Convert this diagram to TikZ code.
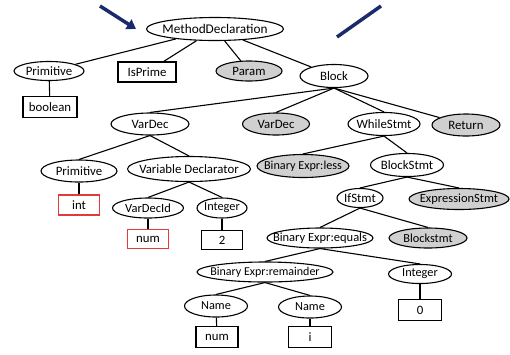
\documentclass[tikz,border=0pt]{standalone}
\usepackage{fontspec}
\setmainfont{Carlito}
\usetikzlibrary{shapes.geometric,arrows.meta}
\definecolor{navy}{HTML}{1B2A6B}
\definecolor{nodegray}{HTML}{D0D0D0}
\definecolor{boxred}{HTML}{E03A3A}
\newcommand\ctr[1]{\makebox[0pt]{#1}}
\tikzset{
  E/.style 2 args={ellipse,draw,line width=1.1pt,minimum width=#1pt,minimum height=#2pt,inner sep=0pt,font=\fontsize{12.8}{14}\selectfont},
  G/.style 2 args={E={#1}{#2},fill=nodegray},
  R/.style 2 args={rectangle,draw,line width=1.1pt,minimum width=#1pt,minimum height=#2pt,inner sep=0pt,font=\fontsize{12.8}{14}\selectfont},
  RR/.style 2 args={R={#1}{#2},draw=boxred,line width=1.3pt},
  edge/.style={line width=1.1pt},
  navyline/.style={draw=navy,line width=3.5pt}
}
\begin{document}
\begin{tikzpicture}[x=1pt,y=-1pt]
\useasboundingbox (0,0) rectangle (510,354);
% arrows
\coordinate (la) at (100,6);
\coordinate (lb) at (136,29);
\coordinate (ra) at (337,37);
\coordinate (rb) at (381,6);
\draw[navyline,-{Triangle[length=9pt,width=11pt]}] (la) -- (lb);
\draw[navyline] (ra) -- (rb);
% nodes
\node[E={137}{23},font=\fontsize{13.3}{15}\selectfont] (md) at (215,29) {\ctr{MethodDeclaration}};
\node[E={70}{19}] (prim1) at (49,71) {\ctr{Primitive}};
\node[R={58}{20}] (isprime) at (147,72) {\ctr{IsPrime}};
\node[G={66}{20}] (param) at (249,71) {\ctr{Param}};
\node[E={68}{23}] (block) at (334,76) {\ctr{Block}};
\node[R={54}{21}] (bool) at (50,107) {\ctr{boolean}};

\node[E={78}{22}] (vardec) at (150,124) {\ctr{VarDec}};
\node[G={67}{22}] (vardec2) at (276,124) {\ctr{VarDec}};
\node[E={72}{23}] (while) at (384,124) {\ctr{WhileStmt}};
\node[G={68}{22}] (ret) at (466,125) {\ctr{Return}};

\node[E={76}{22}] (prim2) at (79,171) {\ctr{Primitive}};
\node[E={123}{25}] (vdecl) at (189,169) {\ctr{Variable Declarator}};
\node[G={92}{23},font=\fontsize{12.2}{13}\selectfont] (less) at (303,166) {\ctr{Binary Expr:less}};
\node[E={73}{23}] (bstmt) at (407,165) {\ctr{BlockStmt}};

\node[RR={41}{20}] (int) at (79,205) {\ctr{int}};
\node[E={71}{20},font=\fontsize{12.5}{13}\selectfont] (vdid) at (148,208) {\ctr{VarDecId}};
\node[E={50}{20},font=\fontsize{12.3}{13}\selectfont] (integer1) at (222,208) {\ctr{Integer}};
\node[E={46}{19}] (ifs) at (360,198) {\ctr{IfStmt}};
\node[G={100}{21},font=\fontsize{12.5}{13}\selectfont] (exps) at (459,199) {\ctr{ExpressionStmt}};

\node[RR={41}{19}] (num1) at (148,239) {\ctr{num}};
\node[R={41}{19}] (two) at (222,240) {\ctr{2}};
\node[E={106}{20},font=\fontsize{12.5}{13}\selectfont] (equals) at (320,238) {\ctr{Binary Expr:equals}};
\node[G={78}{20},font=\fontsize{12.3}{13}\selectfont] (bstmt2) at (428,238) {\ctr{Blockstmt}};

\node[E={136}{20},font=\fontsize{12}{13}\selectfont] (rem) at (265,272) {\ctr{Binary Expr:remainder}};
\node[E={63}{19},font=\fontsize{12.3}{13}\selectfont] (integer2) at (420,274) {\ctr{Integer}};

\node[E={63}{22},font=\fontsize{12.3}{13}\selectfont] (name1) at (216,306) {\ctr{Name}};
\node[E={63}{22},font=\fontsize{12.3}{13}\selectfont] (name2) at (310,307) {\ctr{Name}};
\node[R={43}{21}] (zero) at (420,310) {\ctr{0}};

\node[R={42}{21}] (num2) at (217,337) {\ctr{num}};
\node[R={43}{21}] (ivar) at (310,337) {\ctr{i}};

% edges
\draw[edge] (md) -- (prim1);
\draw[edge] (md) -- (isprime);
\draw[edge] (md) -- (param);
\draw[edge] (md) -- (block);
\draw[edge] (prim1) -- (bool);
\draw[edge] (block.south) -- (vardec.north);
\draw[edge] (block.south) -- (vardec2.north);
\draw[edge] (block.south) -- (while.north);
\draw[edge] (block.south) -- (ret);
\draw[edge] (vardec.south) -- (prim2.north);
\draw[edge] (vardec.south) -- (vdecl.north);
\draw[edge] (prim2) -- (int);
\draw[edge] (vdecl.south) -- (vdid.north);
\draw[edge] (vdecl.south) -- (integer1.north);
\draw[edge] (vdid) -- (num1);
\draw[edge] (integer1) -- (two);
\draw[edge] (while.south) -- (less.north);
\draw[edge] (while.south) -- (bstmt.north);
\draw[edge] (bstmt.south) -- (ifs.north);
\draw[edge] (bstmt.south) -- (exps.north);
\draw[edge] (ifs.south) -- (equals.north);
\draw[edge] (ifs.south) -- (bstmt2.north);
\draw[edge] (equals.south) -- (rem.north);
\draw[edge] (equals.south) -- (integer2.north);
\draw[edge] (integer2) -- (zero);
\draw[edge] (rem.south) -- (name1.north);
\draw[edge] (rem.south) -- (name2.north);
\draw[edge] (name1) -- (num2);
\draw[edge] (name2) -- (ivar);
\end{tikzpicture}
\end{document}
